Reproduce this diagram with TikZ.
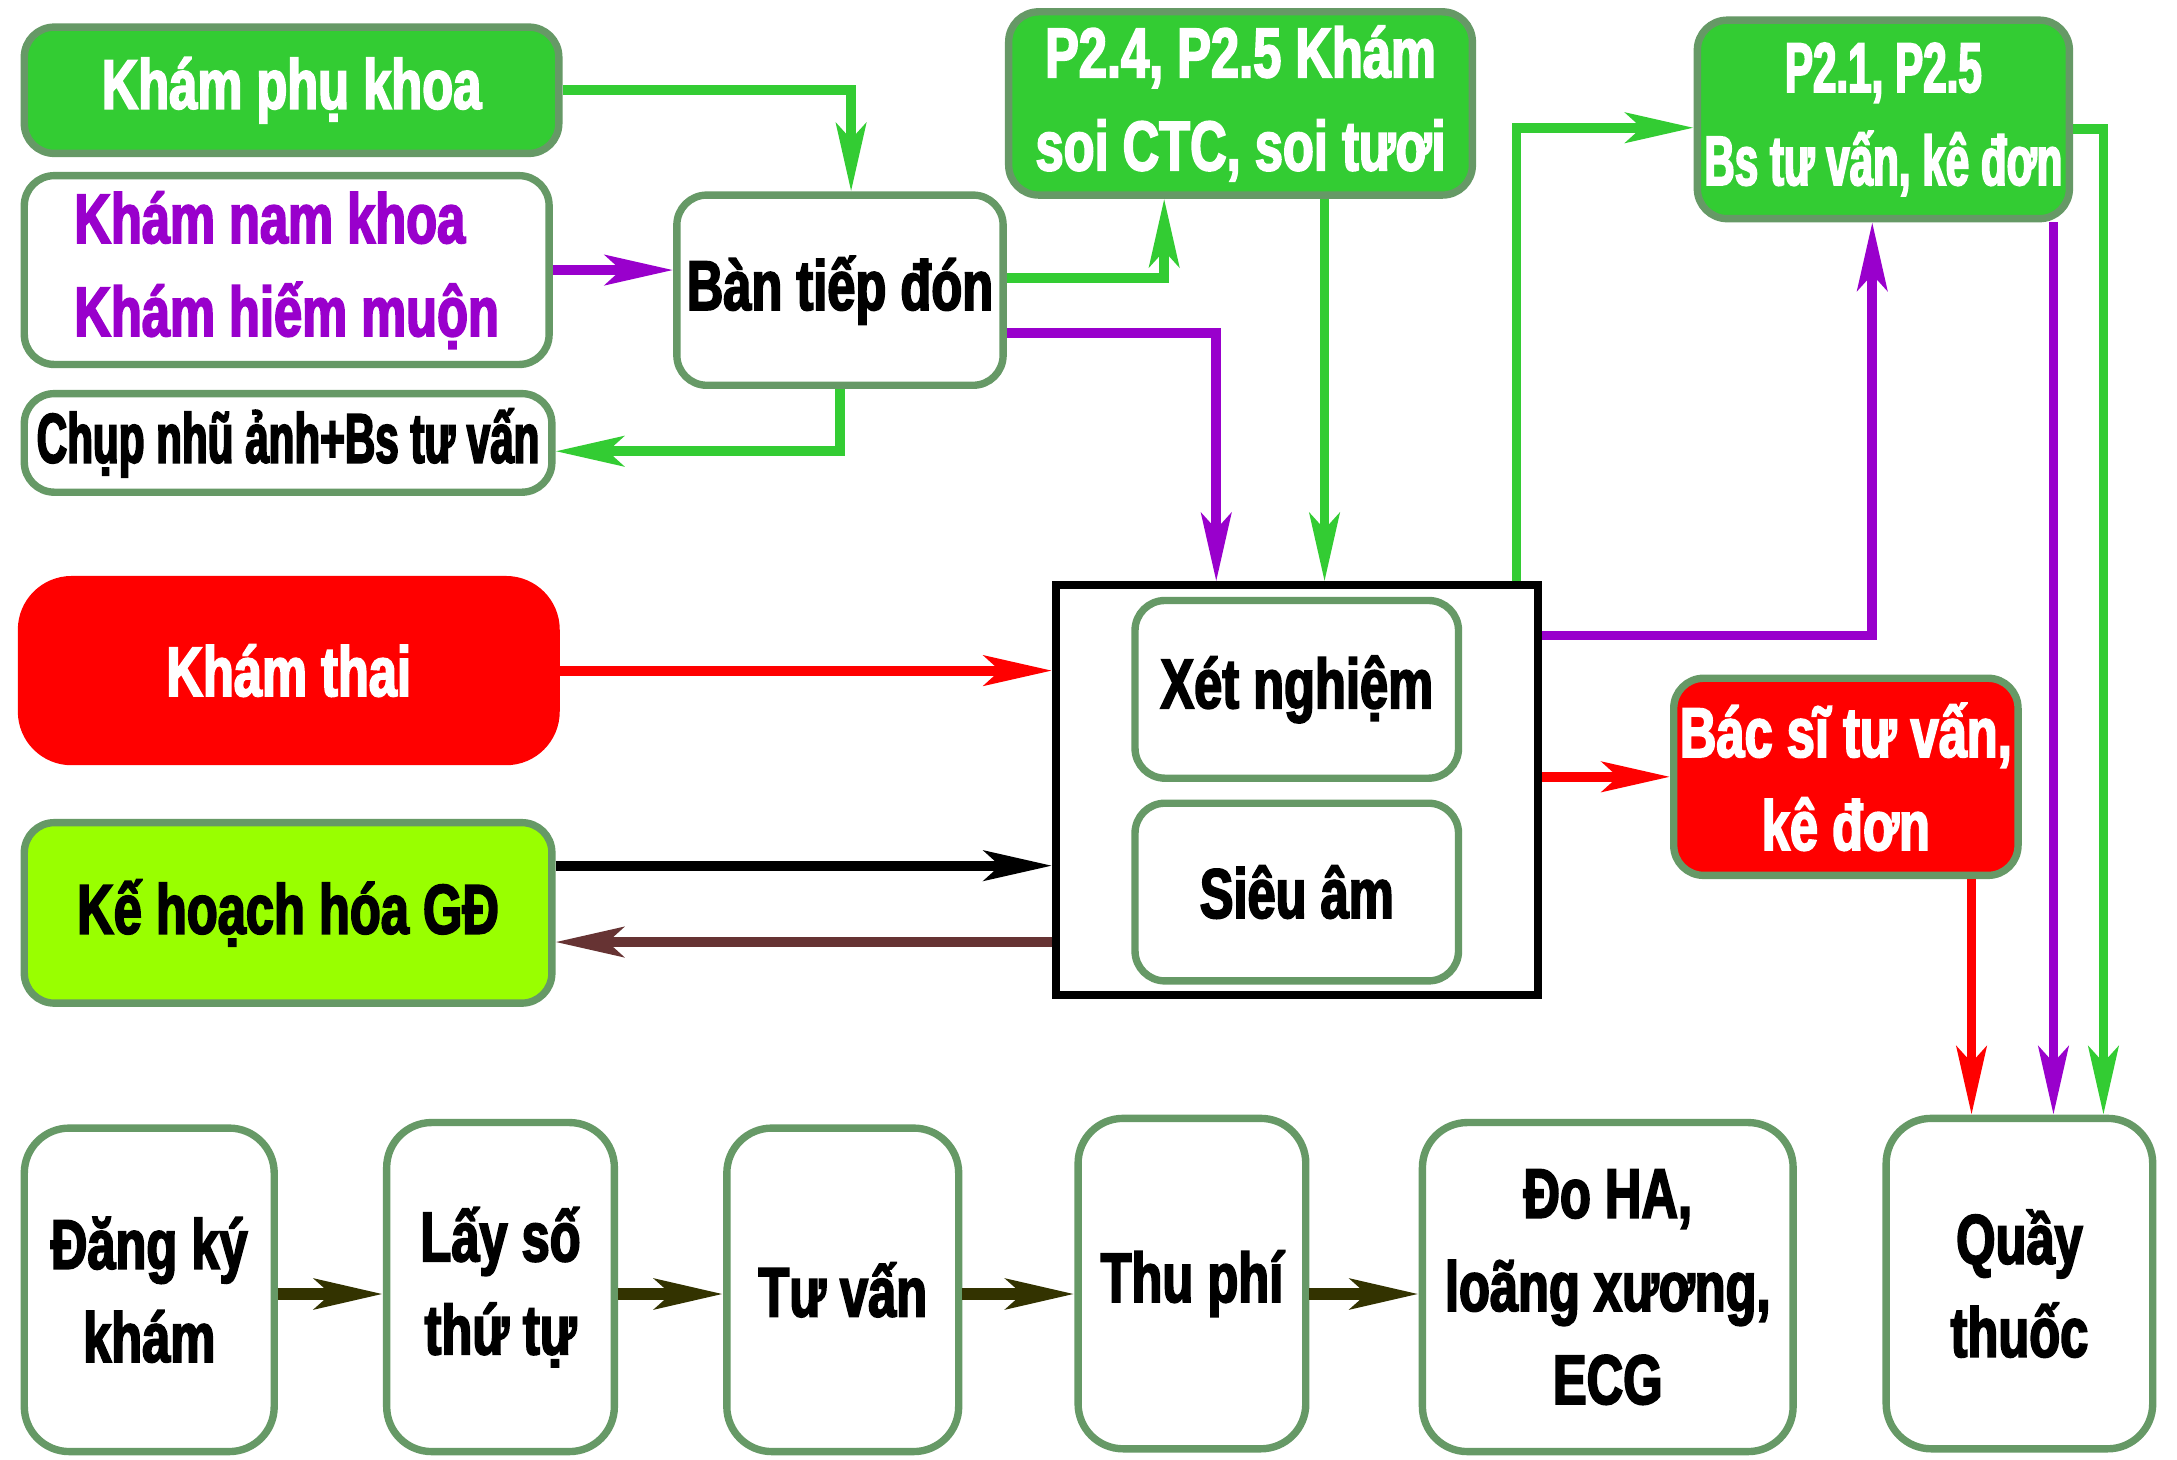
\documentclass[tikz,border=0pt]{standalone}
\usepackage{fontspec}
\newfontfamily\narrowfont{Liberation Sans}[FakeStretch=0.72, FakeBold=2.5]
\newfontfamily\tightfont{Liberation Sans}[FakeStretch=0.6, FakeBold=2.5]
\usetikzlibrary{arrows.meta,calc}
\definecolor{kgreen}{HTML}{33CC33}
\definecolor{kborder}{HTML}{669966}
\definecolor{kpurple}{HTML}{9900CC}
\definecolor{kred}{HTML}{FF0000}
\definecolor{klime}{HTML}{99FF00}
\definecolor{kbrown}{HTML}{663333}
\definecolor{kolive}{HTML}{333300}
\newcommand{\upx}{0.013884cm}
\tikzset{%
  >={Stealth[length=6.8mm,width=3mm,inset=1.6mm]},
  % Styles for the boxes:
        base/.style = {rectangle, rounded corners=3mm, draw=kborder,
                       line width=2.1pt, text centered, align=center,
                       inner sep=1pt,
                       font=\narrowfont\bfseries\fontsize{20}{26.5}\selectfont},
    greenbox/.style = {base, fill=kgreen, text=white},
    whitebox/.style = {base, fill=white},
      redbox/.style = {base, fill=kred, text=white},
     limebox/.style = {base, fill=klime},
     stepbox/.style = {base, fill=white, rounded corners=4.5mm},
   tighttext/.style = {font=\tightfont\bfseries\fontsize{20}{26.5}\selectfont},
     boxsize/.style 2 args = {minimum width=#1*\upx, minimum height=#2*\upx},
        link/.style = {->, line width=2.8pt},
                       }
\begin{document}
\begin{tikzpicture}[x=\upx, y=-\upx]
  \fill[white] (0,0) rectangle (1568,1051);
  \useasboundingbox (0,0) rectangle (1568,1051);
  % Boxes on the left and reception
  \node (phukhoa)  [greenbox, boxsize={385}{91}]  at (210,65)      {Khám phụ khoa};
  \node (namkhoa)  [whitebox, boxsize={378}{136}, text=kpurple, align=left]
                                                  at (206.5,194.5) {Khám nam khoa\\Khám hiếm muộn};
  \node (chup)     [whitebox, tighttext, boxsize={380}{71}]
                                                  at (207.5,319)   {Chụp nhũ ảnh+Bs tư vấn};
  \node (tiepdon)  [whitebox, boxsize={235}{137}] at (605,209)     {Bàn tiếp đón};
  \node (soictc)   [greenbox, boxsize={334}{132}] at (893.5,74.5)  {P2.4, P2.5 Khám\\soi CTC, soi tươi};
  \node (tuvan21)  [greenbox, tighttext, boxsize={268}{143}]
                                                  at (1356.5,86)   {P2.1, P2.5\\Bs tư vấn, kê đơn};
  \node (khamthai) [redbox, draw=kred, rounded corners=5mm, boxsize={385}{131}]
                                                  at (208,483)     {Khám thai};
  \node (khhgd)    [limebox, boxsize={380}{130}]  at (207.5,657.5) {Kế hoạch hóa GĐ};

  % Tests block
  \node (bigbox)   [draw=black, line width=2.2pt, minimum width=347*\upx,
                    minimum height=295*\upx]      at (934,569)     {};
  \node (xetnghiem)[whitebox, boxsize={233}{128}] at (934,496.5)   {Xét nghiệm};
  \node (sieuam)   [whitebox, boxsize={233}{128}] at (934,642.5)   {Siêu âm};
  \node (bacsi)    [redbox, boxsize={248}{142}]   at (1329.5,559.5){Bác sĩ tư vấn,\\kê đơn};

  % Bottom row
  \node (dangky)   [stepbox, boxsize={180}{233}]  at (107.5,929)   {Đăng ký\\khám};
  \node (layso)    [stepbox, boxsize={164}{237}]  at (360.5,927)   {Lấy số\\thứ tự};
  \node (tuvan)    [stepbox, boxsize={167}{233}]  at (607,929)     {Tư vấn};
  \node (thuphi)   [stepbox, boxsize={164}{238}]  at (858.5,924.5) {Thu phí};
  \node (doha)     [stepbox, boxsize={267}{237}]  at (1158,927)    {Đo HA,\\loãng xương,\\ECG};
  \node (quay)     [stepbox, boxsize={192}{238}]  at (1454.5,924.5){Quầy\\thuốc};

  % Connectors
  \draw[link, kgreen]  (phukhoa.east) -| ($(tiepdon.north)+(8,0)$);
  \draw[link, kpurple] (namkhoa.east) -- (namkhoa.east -| tiepdon.west);
  \draw[link, kgreen]  (tiepdon.south) |- ($(chup.east)+(0,6)$);
  \draw[link, kgreen]  ($(tiepdon.east)+(0,-9)$) -| ($(soictc.south)+(-55,0)$);
  \draw[link, kpurple] ($(tiepdon.east)+(0,31)$) -| ($(bigbox.north)+(-58,0)$);
  \coordinate (c1) at ($(bigbox.north)+(20,0)$);
  \draw[link, kgreen]  (c1 |- soictc.south) -- (c1);
  \draw[link, kgreen]  ($(bigbox.north east)+(-18,0)$) |- ($(tuvan21.west)+(0,6)$);
  \draw[link, kpurple] ($(bigbox.north east)+(0,39)$) -| ($(tuvan21.south)+(-8,0)$);
  \draw[link, kred]    (khamthai.east) -- (khamthai.east -| bigbox.west);
  \draw[link, black]   ($(khhgd.east)+(0,-34)$) -- ($(khhgd.east -| bigbox.west)+(0,-34)$);
  \draw[link, kbrown]  ($(khhgd.east -| bigbox.west)+(0,21)$) -- ($(khhgd.east)+(0,21)$);
  \draw[link, kred]    (bacsi.west -| bigbox.east) -- (bacsi.west);
  \coordinate (c2) at ($(quay.north)+(-34.5,0)$);
  \coordinate (c3) at ($(quay.north)+(24.5,0)$);
  \coordinate (c4) at ($(quay.north)+(60.5,0)$);
  \draw[link, kred]    (c2 |- bacsi.south) -- (c2);
  \draw[link, kpurple] (c3 |- tuvan21.south) -- (c3);
  \draw[link, kgreen]  ($(tuvan21.east)+(0,7)$) -| (c4);
  \foreach \a/\b in {dangky/layso, layso/tuvan, tuvan/thuphi, thuphi/doha}
    \draw[link, kolive, line width=3.3pt] (\a.east |- 0,932) -- (\b.west |- 0,932);
\end{tikzpicture}
\end{document}
